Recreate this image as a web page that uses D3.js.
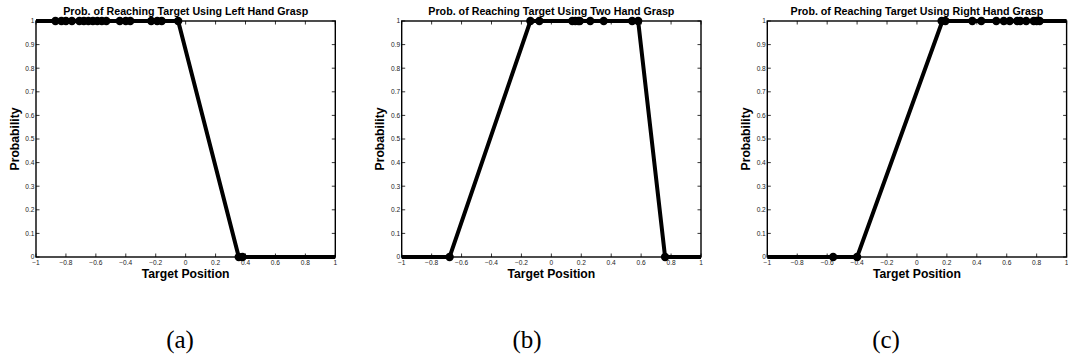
<!DOCTYPE html>
<html>
<head>
<meta charset="utf-8">
<script src="https://cdn.jsdelivr.net/npm/d3@7/dist/d3.min.js"></script>
<style>
  html, body { margin: 0; padding: 0; background: #fff; }
  svg { display: block; }
</style>
</head>
<body>
<svg id="fig" width="1068" height="359"></svg>
<script>
// Panel titles and sub-captions
const titles = [
  "Prob. of Reaching Target Using Left Hand Grasp",
  "Prob. of Reaching Target Using Two Hand Grasp",
  "Prob. of Reaching Target Using Right Hand Grasp"
];
const captions = ["(a)", "(b)", "(c)"];

// Axis ticks
const xTickValues = [-1, -0.8, -0.6, -0.4, -0.2, 0, 0.2, 0.4, 0.6, 0.8, 1];
const yTickValues = [0, 0.1, 0.2, 0.3, 0.4, 0.5, 0.6, 0.7, 0.8, 0.9, 1];

// Left hand grasp: probability curve and sampled targets
const leftLineX = [-1, -0.05, 0.355, 1];
const leftLineP = [1, 1, 0, 0];
const leftDotsX = [-0.87, -0.83, -0.80, -0.76, -0.71, -0.68, -0.65, -0.62, -0.59, -0.56, -0.53,
                   -0.44, -0.40, -0.37, -0.23, -0.19, -0.16, -0.05, 0.355, 0.38];
const leftDotsP = [1, 1, 1, 1, 1, 1, 1, 1, 1, 1, 1,
                   1, 1, 1, 1, 1, 1, 1, 0, 0];

// Two hand grasp
const twoLineX = [-1, -0.68, -0.14, 0.58, 0.76, 1];
const twoLineP = [0, 0, 1, 1, 0, 0];
const twoDotsX = [-0.68, -0.14, -0.08, 0.14, 0.16, 0.18, 0.19, 0.26, 0.35, 0.54, 0.58, 0.76];
const twoDotsP = [0, 1, 1, 1, 1, 1, 1, 1, 1, 1, 1, 0];

// Right hand grasp
const rightLineX = [-1, -0.40, 0.17, 1];
const rightLineP = [0, 0, 1, 1];
const rightDotsX = [-0.56, -0.40, 0.165, 0.19, 0.37, 0.43, 0.53, 0.58, 0.62, 0.67, 0.69, 0.73, 0.78, 0.80, 0.82];
const rightDotsP = [0, 0, 1, 1, 1, 1, 1, 1, 1, 1, 1, 1, 1, 1, 1];

const panels = [
  { lx: leftLineX, lp: leftLineP, dx: leftDotsX, dp: leftDotsP },
  { lx: twoLineX, lp: twoLineP, dx: twoDotsX, dp: twoDotsP },
  { lx: rightLineX, lp: rightLineP, dx: rightDotsX, dp: rightDotsP }
];

// Layout of the three axes boxes
const plotLefts = [36, 401.7, 767.3];
const plotW = 299.3;
const plotTop = 21, plotBottom = 257;
const captionX = [180, 527, 886];

const svg = d3.select("#fig");
const fmt = v => (Math.round(v * 10) / 10).toString().replace("-", "\u2212");
const sans = "Liberation Sans, Arial, Helvetica, sans-serif";

panels.forEach((p, i) => {
  const x0 = plotLefts[i];
  const x = d3.scaleLinear().domain([-1, 1]).range([x0, x0 + plotW]);
  const y = d3.scaleLinear().domain([0, 1]).range([plotBottom, plotTop]);
  const g = svg.append("g");

  // Box
  g.append("rect")
    .attr("x", x(-1)).attr("y", y(1))
    .attr("width", x(1) - x(-1)).attr("height", y(0) - y(1))
    .attr("fill", "none").attr("stroke", "#000").attr("stroke-width", 1.4);

  // Inward ticks on all four sides
  const tl = 3.5;
  g.selectAll(".xtb").data(xTickValues).join("line")
    .attr("x1", d => x(d)).attr("x2", d => x(d))
    .attr("y1", y(0)).attr("y2", y(0) - tl)
    .attr("stroke", "#000").attr("stroke-width", 0.8);
  g.selectAll(".xtt").data(xTickValues).join("line")
    .attr("x1", d => x(d)).attr("x2", d => x(d))
    .attr("y1", y(1)).attr("y2", y(1) + tl)
    .attr("stroke", "#000").attr("stroke-width", 0.8);
  g.selectAll(".ytl").data(yTickValues).join("line")
    .attr("x1", x(-1)).attr("x2", x(-1) + tl)
    .attr("y1", d => y(d)).attr("y2", d => y(d))
    .attr("stroke", "#000").attr("stroke-width", 0.8);
  g.selectAll(".ytr").data(yTickValues).join("line")
    .attr("x1", x(1)).attr("x2", x(1) - tl)
    .attr("y1", d => y(d)).attr("y2", d => y(d))
    .attr("stroke", "#000").attr("stroke-width", 0.8);

  // Tick labels
  g.selectAll(".xl").data(xTickValues).join("text")
    .attr("x", d => x(d)).attr("y", y(0) + 7.8)
    .attr("text-anchor", "middle")
    .attr("font-family", sans)
    .attr("font-size", 6.6).attr("fill", "#222")
    .text(fmt);
  g.selectAll(".yl").data(yTickValues).join("text")
    .attr("x", x(-1) - 1.5).attr("y", d => y(d) + 2.3)
    .attr("text-anchor", "end")
    .attr("font-family", sans)
    .attr("font-size", 6.6).attr("fill", "#222")
    .text(fmt);

  // Title and axis labels
  g.append("text")
    .attr("x", (x(-1) + x(1)) / 2).attr("y", 15)
    .attr("text-anchor", "middle")
    .attr("font-family", sans)
    .attr("font-weight", "bold").attr("font-size", 10.7)
    .text(titles[i]);
  g.append("text")
    .attr("x", (x(-1) + x(1)) / 2).attr("y", 277.5)
    .attr("text-anchor", "middle")
    .attr("font-family", sans)
    .attr("font-weight", "bold").attr("font-size", 12.2)
    .text("Target Position");
  g.append("text")
    .attr("transform", `translate(${x0 - 17.5},${(plotTop + plotBottom) / 2}) rotate(-90)`)
    .attr("text-anchor", "middle")
    .attr("font-family", sans)
    .attr("font-weight", "bold").attr("font-size", 12.2)
    .text("Probability");

  // Probability curve
  const pts = p.lx.map((v, k) => [v, p.lp[k]]);
  g.append("path")
    .attr("d", d3.line().x(d => x(d[0])).y(d => y(d[1]))(pts))
    .attr("fill", "none").attr("stroke", "#000")
    .attr("stroke-width", 4).attr("stroke-linejoin", "miter");

  // Sampled targets
  const dots = p.dx.map((v, k) => [v, p.dp[k]]);
  g.selectAll(".dot").data(dots).join("circle")
    .attr("cx", d => x(d[0])).attr("cy", d => y(d[1]))
    .attr("r", 4.2).attr("fill", "#000");

  // Sub-caption
  svg.append("text")
    .attr("x", captionX[i]).attr("y", 348)
    .attr("text-anchor", "middle")
    .attr("font-family", "Liberation Serif, DejaVu Serif, serif")
    .attr("font-size", 25)
    .text(captions[i]);
});
</script>
</body>
</html>
